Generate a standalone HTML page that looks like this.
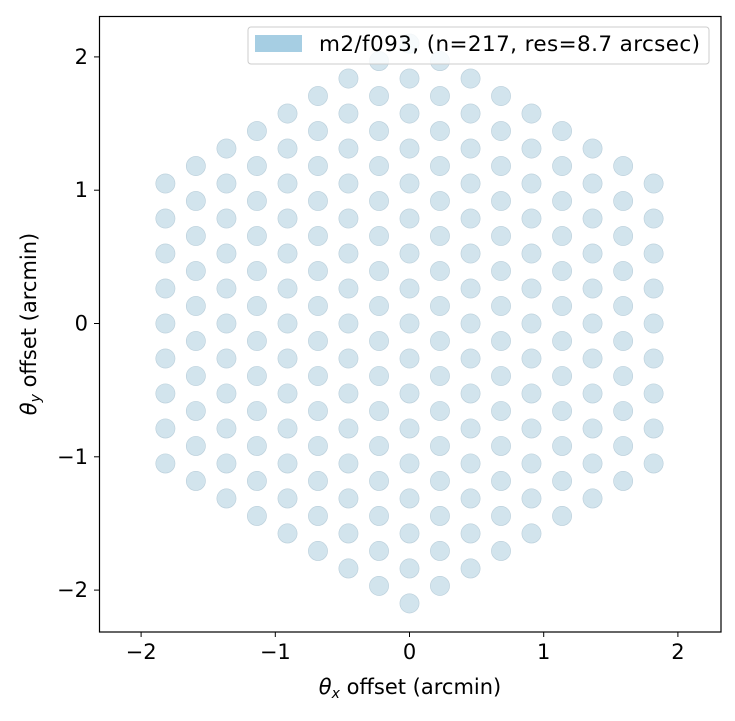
<!DOCTYPE html>
<html><head><meta charset="utf-8"><style>
body{margin:0;background:#fff;}
svg text{font-family:"DejaVu Sans","Liberation Sans",sans-serif;fill:#000;}
</style></head><body>
<svg width="735" height="716" viewBox="0 0 735 716">
<g id="pts"></g>
<rect x="99.5" y="16.5" width="621.5" height="615.5" fill="none" stroke="#000" stroke-width="1.2"/>
<g id="ticks"></g>
<text x="410" y="694" font-size="21" text-anchor="middle"><tspan font-style="italic">θ</tspan><tspan font-style="italic" font-size="14" dy="4">x</tspan><tspan dy="-4"> offset (arcmin)</tspan></text>
<text transform="translate(36,324) rotate(-90)" font-size="21" text-anchor="middle"><tspan font-style="italic">θ</tspan><tspan font-style="italic" font-size="14" dy="4">y</tspan><tspan dy="-4"> offset (arcmin)</tspan></text>
<g>
<rect x="248" y="27" width="461" height="37" rx="3" fill="#fff" fill-opacity="0.8" stroke="#ccc" stroke-width="1"/>
<rect x="255" y="35" width="47" height="17" fill="#a6cee3"/>
<text x="319" y="51" font-size="21.5" textLength="381">m2/f093, (n=217, res=8.7 arcsec)</text>
</g>
</svg>
<script>
const colX=[-1.819,-1.592,-1.364,-1.137,-0.909,-0.682,-0.455,-0.227,0,0.227,0.455,0.682,0.909,1.137,1.364,1.592,1.819];
const colCount=[9,10,11,12,13,14,15,16,17,16,15,14,13,12,11,10,9];
const rowStep=[0.2625];
const xTicks=[-2,-1,0,1,2];
const yTicks=[-2,-1,0,1,2];
const ns="http://www.w3.org/2000/svg";
const sx=v=>409.5+v*134.2, sy=v=>323.5-v*133.3;
const pts=document.getElementById('pts');
colX.forEach((cx,i)=>{
  const n=colCount[i];
  for(let j=0;j<n;j++){
    const yv=(j-(n-1)/2)*rowStep[0];
    const c=document.createElementNS(ns,'circle');
    c.setAttribute('cx',sx(cx));c.setAttribute('cy',sy(yv));c.setAttribute('r',9.6);
    c.setAttribute('fill','#d2e4ed');c.setAttribute('stroke','#b9ceda');c.setAttribute('stroke-width','0.6');
    
    
    pts.appendChild(c);
  }
});
const tg=document.getElementById('ticks');
const lab=v=>v<0?'\u2212'+Math.abs(v):String(v);
xTicks.forEach(v=>{
  const l=document.createElementNS(ns,'line');
  l.setAttribute('x1',sx(v));l.setAttribute('x2',sx(v));l.setAttribute('y1',632);l.setAttribute('y2',637);l.setAttribute('stroke','#000');
  
  
  tg.appendChild(l);
  const t=document.createElementNS(ns,'text');
  t.setAttribute('x',sx(v));t.setAttribute('y',659);t.setAttribute('font-size','21');t.setAttribute('text-anchor','middle');
  t.textContent=lab(v);
  
  
  tg.appendChild(t);
});
yTicks.forEach(v=>{
  const l=document.createElementNS(ns,'line');
  l.setAttribute('x1',94);l.setAttribute('x2',99.5);l.setAttribute('y1',sy(v));l.setAttribute('y2',sy(v));l.setAttribute('stroke','#000');
  
  
  tg.appendChild(l);
  const t=document.createElementNS(ns,'text');
  t.setAttribute('x',88);t.setAttribute('y',sy(v)+7);t.setAttribute('font-size','21');t.setAttribute('text-anchor','end');
  t.textContent=lab(v);
  
  
  tg.appendChild(t);
});
</script>
</body></html>
